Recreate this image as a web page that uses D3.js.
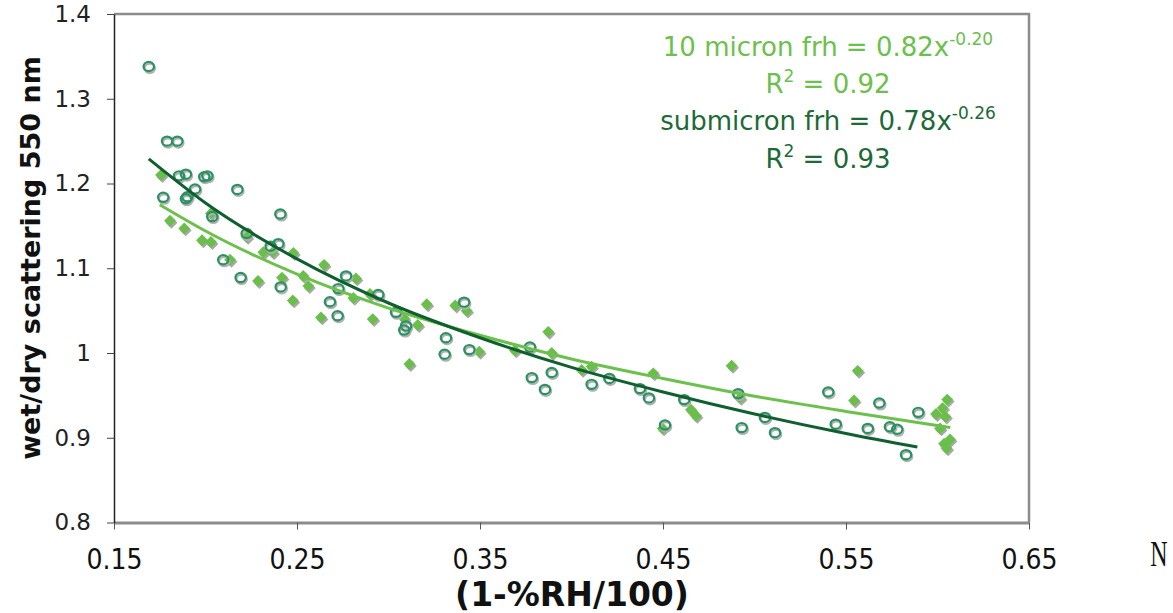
<!DOCTYPE html>
<html>
<head>
<meta charset="utf-8">
<script src="https://cdn.jsdelivr.net/npm/d3@7"></script>
<style>
  body { margin: 0; background: #fff; }
  svg { display: block; }
</style>
</head>
<body>
<svg id="chart"></svg>
<script>
// submicron (open circles)
const submicronX = [0.169, 0.179, 0.1846, 0.1855, 0.1893, 0.1993, 0.201, 0.1943, 0.1769, 0.1893, 0.1901,
  0.2174, 0.2037, 0.2409, 0.2225, 0.2398, 0.2356, 0.2097, 0.2192, 0.2411, 0.268, 0.2726, 0.2768, 0.2722,
  0.2944, 0.3041, 0.3096, 0.3086, 0.3314, 0.3307, 0.3413, 0.3442, 0.3773, 0.3783, 0.3855, 0.3892, 0.411,
  0.4207, 0.4374, 0.4423, 0.4511, 0.4616, 0.4911, 0.493, 0.5057, 0.5112, 0.5403, 0.5444, 0.5619, 0.5682,
  0.574, 0.578, 0.5895, 0.5828];
const submicronY = [1.338, 1.250, 1.250, 1.209, 1.211, 1.208, 1.209, 1.1935, 1.1837, 1.182, 1.1844,
  1.193, 1.161, 1.164, 1.141, 1.129, 1.126, 1.110, 1.089, 1.078, 1.0605, 1.076, 1.091, 1.044,
  1.069, 1.048, 1.032, 1.027, 1.018, 0.9985, 1.060, 1.004, 1.007, 0.971, 0.957, 0.977, 0.963,
  0.970, 0.958, 0.947, 0.915, 0.945, 0.952, 0.912, 0.924, 0.906, 0.954, 0.916, 0.911, 0.941,
  0.913, 0.910, 0.930, 0.880];

// 10 micron (filled diamonds)
const micron10X = [0.1757, 0.1806, 0.1884, 0.1981, 0.203, 0.203, 0.2134, 0.2225, 0.2287, 0.2316, 0.2367,
  0.2418, 0.248, 0.2477, 0.2534, 0.2562, 0.2631, 0.2648, 0.2808, 0.2822, 0.2914, 0.3085, 0.3114, 0.316,
  0.3209, 0.3365, 0.3427, 0.3496, 0.3691, 0.3873, 0.3892, 0.4056, 0.411, 0.4447, 0.4498, 0.4653, 0.468,
  0.4875, 0.4921, 0.5564, 0.5544, 0.6053, 0.6028, 0.5992, 0.6043, 0.6014, 0.6068, 0.6036, 0.605, 0.2899];
const micron10Y = [1.210, 1.156, 1.147, 1.133, 1.131, 1.165, 1.110, 1.137, 1.085, 1.119, 1.119,
  1.089, 1.118, 1.062, 1.091, 1.079, 1.042, 1.104, 1.065, 1.088, 1.040, 1.041, 0.987, 1.033,
  1.0575, 1.056, 1.050, 1.0015, 1.003, 1.025, 1.000, 0.980, 0.984, 0.976, 0.911, 0.933, 0.926,
  0.985, 0.947, 0.979, 0.944, 0.945, 0.935, 0.928, 0.925, 0.911, 0.898, 0.893, 0.8876, 1.0696];

// power-law trend lines
const subTrendX = [0.169, 0.20, 0.25, 0.30, 0.35, 0.40, 0.45, 0.50, 0.55, 0.589];
const subTrendY = [1.229, 1.177, 1.111, 1.059, 1.018, 0.983, 0.954, 0.928, 0.905, 0.889];
const m10TrendX = [0.175, 0.20, 0.25, 0.30, 0.35, 0.40, 0.45, 0.50, 0.55, 0.607];
const m10TrendY = [1.175, 1.144, 1.093, 1.053, 1.021, 0.993, 0.970, 0.949, 0.931, 0.912];

const xTicks = [0.15, 0.25, 0.35, 0.45, 0.55, 0.65];
const yTicks = [0.8, 0.9, 1, 1.1, 1.2, 1.3, 1.4];

const W = 1173, H = 613;
const margin = { top: 14, right: 144, bottom: 90.5, left: 114 };

const darkGreen = '#0f5f2f';
const lightGreen = '#6cc04c';
const ringGreen = '#2a9262';

const svg = d3.select('#chart').attr('width', W).attr('height', H);

const x = d3.scaleLinear().domain([0.15, 0.65]).range([margin.left, W - margin.right]);
const y = d3.scaleLinear().domain([0.8, 1.4]).range([H - margin.bottom, margin.top]);

// frame (top + right)
svg.append('path')
  .attr('d', `M${x(0.15)},${y(1.4)}H${x(0.65)}V${y(0.8)}`)
  .attr('fill', 'none')
  .attr('stroke', '#8c8c8c')
  .attr('stroke-width', 2.5);

// x axis
svg.append('g')
  .attr('transform', `translate(0,${y(0.8)})`)
  .call(d3.axisBottom(x).tickValues(xTicks).tickSize(7).tickSizeOuter(0).tickFormat(d3.format('.2f')))
  .call(g => g.select('.domain').attr('stroke', '#8c8c8c').attr('stroke-width', 3))
  .call(g => g.selectAll('.tick line').attr('stroke', '#555'))
  .call(g => g.selectAll('.tick text')
    .attr('y', 46)
    .attr('dy', 0)
    .attr('fill', '#111')
    .style('font-family', '"Liberation Sans Narrow", "DejaVu Sans Condensed", sans-serif')
    .style('font-size', '28px'));

// y axis
svg.append('g')
  .attr('transform', `translate(${x(0.15)},0)`)
  .call(d3.axisLeft(y).tickValues(yTicks).tickSize(7).tickSizeOuter(0).tickFormat(d => d === 1 ? '1' : d3.format('.1f')(d)))
  .call(g => g.select('.domain').attr('stroke', '#222').attr('stroke-width', 1.5))
  .call(g => g.selectAll('.tick line').attr('stroke', '#444'))
  .call(g => g.selectAll('.tick text')
    .attr('x', -23)
    .attr('fill', '#222')
    .style('font-family', '"DejaVu Sans", Verdana, sans-serif')
    .style('font-size', '23px'));

// axis titles
svg.append('text')
  .attr('x', 572).attr('y', 606)
  .attr('text-anchor', 'middle')
  .style('font-family', '"DejaVu Sans", Verdana, sans-serif')
  .style('font-weight', 'bold')
  .style('font-size', '33px')
  .attr('fill', '#111')
  .text('(1-%RH/100)');

svg.append('text')
  .attr('transform', 'translate(40,258) rotate(-90)')
  .attr('text-anchor', 'middle')
  .style('font-family', '"DejaVu Sans", Verdana, sans-serif')
  .style('font-weight', 'bold')
  .style('font-size', '27px')
  .attr('fill', '#111')
  .text('wet/dry scattering 550 nm');

svg.append('text')
  .attr('transform', 'translate(1159,566) scale(0.8,1.2)')
  .attr('text-anchor', 'middle')
  .style('font-family', '"Liberation Serif", "DejaVu Serif", serif')
  .style('font-size', '30px')
  .attr('fill', '#111')
  .text('N');

// points
const subData = submicronX.map((d, i) => ({ x: d, y: submicronY[i] }));
const m10Data = micron10X.map((d, i) => ({ x: d, y: micron10Y[i] }));

const diamond = d3.symbol().type(d3.symbolSquare).size(70)();

const dGroup = svg.append('g');
dGroup.selectAll('.shadow').data(m10Data).enter().append('path')
  .attr('d', diamond)
  .attr('transform', d => `translate(${x(d.x) + 1.5},${y(d.y) + 2}) rotate(45)`)
  .attr('fill', '#a8a8a8');
dGroup.selectAll('.pt').data(m10Data).enter().append('path')
  .attr('d', diamond)
  .attr('transform', d => `translate(${x(d.x)},${y(d.y)}) rotate(45)`)
  .attr('fill', '#6abf4b');

const cGroup = svg.append('g');
cGroup.selectAll('.shadow').data(subData).enter().append('ellipse')
  .attr('cx', d => x(d.x) + 1)
  .attr('cy', d => y(d.y) + 1.8)
  .attr('rx', 5.2).attr('ry', 4.6)
  .attr('fill', 'none')
  .attr('stroke', '#b0b0b0')
  .attr('stroke-width', 2.2);
cGroup.selectAll('.pt').data(subData).enter().append('ellipse')
  .attr('cx', d => x(d.x))
  .attr('cy', d => y(d.y))
  .attr('rx', 5.2).attr('ry', 4.6)
  .attr('fill', 'none')
  .attr('stroke', ringGreen)
  .attr('stroke-width', 2.2);

// trend lines
const line = d3.line().x(d => x(d[0])).y(d => y(d[1])).curve(d3.curveMonotoneX);
svg.append('path')
  .datum(m10TrendX.map((d, i) => [d, m10TrendY[i]]))
  .attr('d', line)
  .attr('fill', 'none')
  .attr('stroke', lightGreen)
  .attr('stroke-width', 3);
svg.append('path')
  .datum(subTrendX.map((d, i) => [d, subTrendY[i]]))
  .attr('d', line)
  .attr('fill', 'none')
  .attr('stroke', darkGreen)
  .attr('stroke-width', 3);

// fit annotations
const notes = [
  { text: '10 micron frh = 0.82x', sup: '-0.20', color: lightGreen, y: 56 },
  { text: 'R', sup: '2', after: ' = 0.92', color: lightGreen, y: 93 },
  { text: 'submicron frh = 0.78x', sup: '-0.26', color: '#1d6a37', y: 130 },
  { text: 'R', sup: '2', after: ' = 0.93', color: '#1d6a37', y: 168 }
];
notes.forEach(n => {
  const t = svg.append('text')
    .attr('x', 828).attr('y', n.y)
    .attr('text-anchor', 'middle')
    .style('font-family', '"DejaVu Sans", Verdana, sans-serif')
    .style('font-size', '26px')
    .attr('fill', n.color);
  t.append('tspan').text(n.text);
  t.append('tspan').attr('dy', -11).style('font-size', '17px').text(n.sup);
  if (n.after) t.append('tspan').attr('dy', 11).text(n.after);
});
</script>
</body>
</html>
